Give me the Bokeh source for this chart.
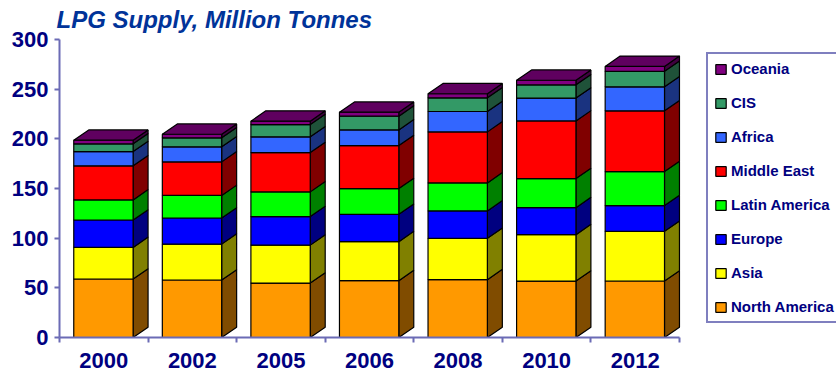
from bokeh.embed import file_html
from bokeh.models import ColumnDataSource, FixedTicker, Legend, LegendItem, Range1d, Title
from bokeh.plotting import figure
from bokeh.resources import INLINE

# Supply by region, million tonnes; each list is one layer of the stack.
years = ["2000", "2002", "2005", "2006", "2008", "2010", "2012"]
north_america = [58.9, 57.9, 54.8, 57.2, 58.2, 56.8, 56.9]
asia = [31.8, 36.1, 38.2, 39.3, 41.6, 46.7, 50.0]
europe = [27.6, 26.3, 28.7, 27.5, 27.6, 27.2, 25.9]
latin_america = [20.2, 22.7, 24.9, 25.9, 28.2, 29.3, 34.2]
middle_east = [34.3, 33.8, 39.6, 43.3, 51.4, 58.0, 61.2]
africa = [14.4, 15.2, 15.8, 15.8, 20.5, 23.0, 24.2]
cis = [7.8, 9.0, 12.4, 13.8, 13.8, 13.4, 15.6]
oceania = [3.6, 3.6, 3.4, 4.0, 4.1, 4.6, 4.9]

# Name, values, front colour, side colour; listed from the bottom of the stack up.
layers = [
    ("North America", north_america, "#FF9900", "#804C00"),
    ("Asia", asia, "#FFFF00", "#808000"),
    ("Europe", europe, "#0000FF", "#000080"),
    ("Latin America", latin_america, "#00FF00", "#008000"),
    ("Middle East", middle_east, "#FF0000", "#800000"),
    ("Africa", africa, "#3366FF", "#1A3380"),
    ("CIS", cis, "#339966", "#1F5239"),
    ("Oceania", oceania, "#800080", "#400040"),
]
top_colour = "#5F005F"

NAVY = "#000080"
AXIS = "#6B6BB5"
FONT = "Liberation Sans"

# Extruded-box geometry, in axis units.
GAP = 0.161
WIDTH = 0.67
DEPTH_X = 0.169
DEPTH_Y = 10.4

# The frame runs to the page edge so the key can sit inside it; the x axis is
# bounded to the seven year slots.
p = figure(
    width=836, height=371,
    x_range=Range1d(0, 8.773), y_range=Range1d(0, 300),
    output_backend="svg", toolbar_location=None,
    min_border_left=59, min_border_right=0,
    min_border_top=39, min_border_bottom=34,
    outline_line_color=None, background_fill_color="white",
)
p.grid.visible = False

lefts = [i + GAP for i in range(len(years))]
rights = [x + WIDTH for x in lefts]
base = [0.0] * len(years)
items = []

for name, values, front, side in layers:
    tops = [b + v for b, v in zip(base, values)]
    side_xs = [[r, r + DEPTH_X, r + DEPTH_X, r] for r in rights]
    side_ys = [[b, b + DEPTH_Y, t + DEPTH_Y, t] for b, t in zip(base, tops)]
    p.patches(side_xs, side_ys, fill_color=side, line_color="black", line_width=1.2)
    bars = p.quad(
        source=ColumnDataSource(dict(left=lefts, right=rights, bottom=base, top=tops)),
        left="left", right="right", bottom="bottom", top="top",
        fill_color=front, line_color="black", line_width=1.2,
    )
    items.append(LegendItem(label=name, renderers=[bars]))
    base = tops

# Lid of each box, sitting on the highest layer.
lid_xs = [[l, l + DEPTH_X, r + DEPTH_X, r] for l, r in zip(lefts, rights)]
lid_ys = [[t, t + DEPTH_Y, t + DEPTH_Y, t] for t in base]
p.patches(lid_xs, lid_ys, fill_color=top_colour, line_color="black", line_width=1.2)

# Horizontal axis: labels centred in each slot, tick marks between the slots.
xaxis = p.xaxis[0]
xaxis.bounds = (0, len(years))
xaxis.ticker = FixedTicker(
    ticks=[i + 0.5 for i in range(len(years))],
    minor_ticks=list(range(len(years) + 1)),
)
xaxis.major_label_overrides = {i + 0.5: y for i, y in enumerate(years)}
xaxis.major_tick_line_color = None
xaxis.minor_tick_line_color = AXIS
xaxis.minor_tick_line_width = 2
xaxis.minor_tick_in = 0
xaxis.minor_tick_out = 5
xaxis.major_label_standoff = 9

yaxis = p.yaxis[0]
yaxis.ticker = FixedTicker(ticks=[0, 50, 100, 150, 200, 250, 300])
yaxis.minor_tick_line_color = None
yaxis.major_tick_line_color = AXIS
yaxis.major_tick_line_width = 2
yaxis.major_tick_in = 0
yaxis.major_tick_out = 5
yaxis.major_label_standoff = 6

for axis in (xaxis, yaxis):
    axis.axis_line_color = AXIS
    axis.axis_line_width = 2
    axis.major_label_text_color = NAVY
    axis.major_label_text_font = FONT
    axis.major_label_text_font_style = "bold"
    axis.major_label_text_font_size = "22px"

legend = Legend(
    items=list(reversed(items)),
    location=(647, 14),
    orientation="vertical",
    border_line_color=NAVY, border_line_width=2,
    background_fill_color="white", background_fill_alpha=1,
    glyph_width=13, glyph_height=12,
    label_height=13, label_standoff=4,
    label_text_color=NAVY, label_text_font=FONT,
    label_text_font_style="bold", label_text_font_size="15px",
    spacing=17, padding=6, margin=0,
)
p.add_layout(legend, "center")

title = Title(
    text="LPG Supply, Million Tonnes",
    text_color="#003399", text_font=FONT,
    text_font_style="bold italic", text_font_size="24px",
    align="left", offset=-3, standoff=10, vertical_align="top",
)
p.add_layout(title, "above")

open("out.html", "w").write(file_html(p, INLINE))
